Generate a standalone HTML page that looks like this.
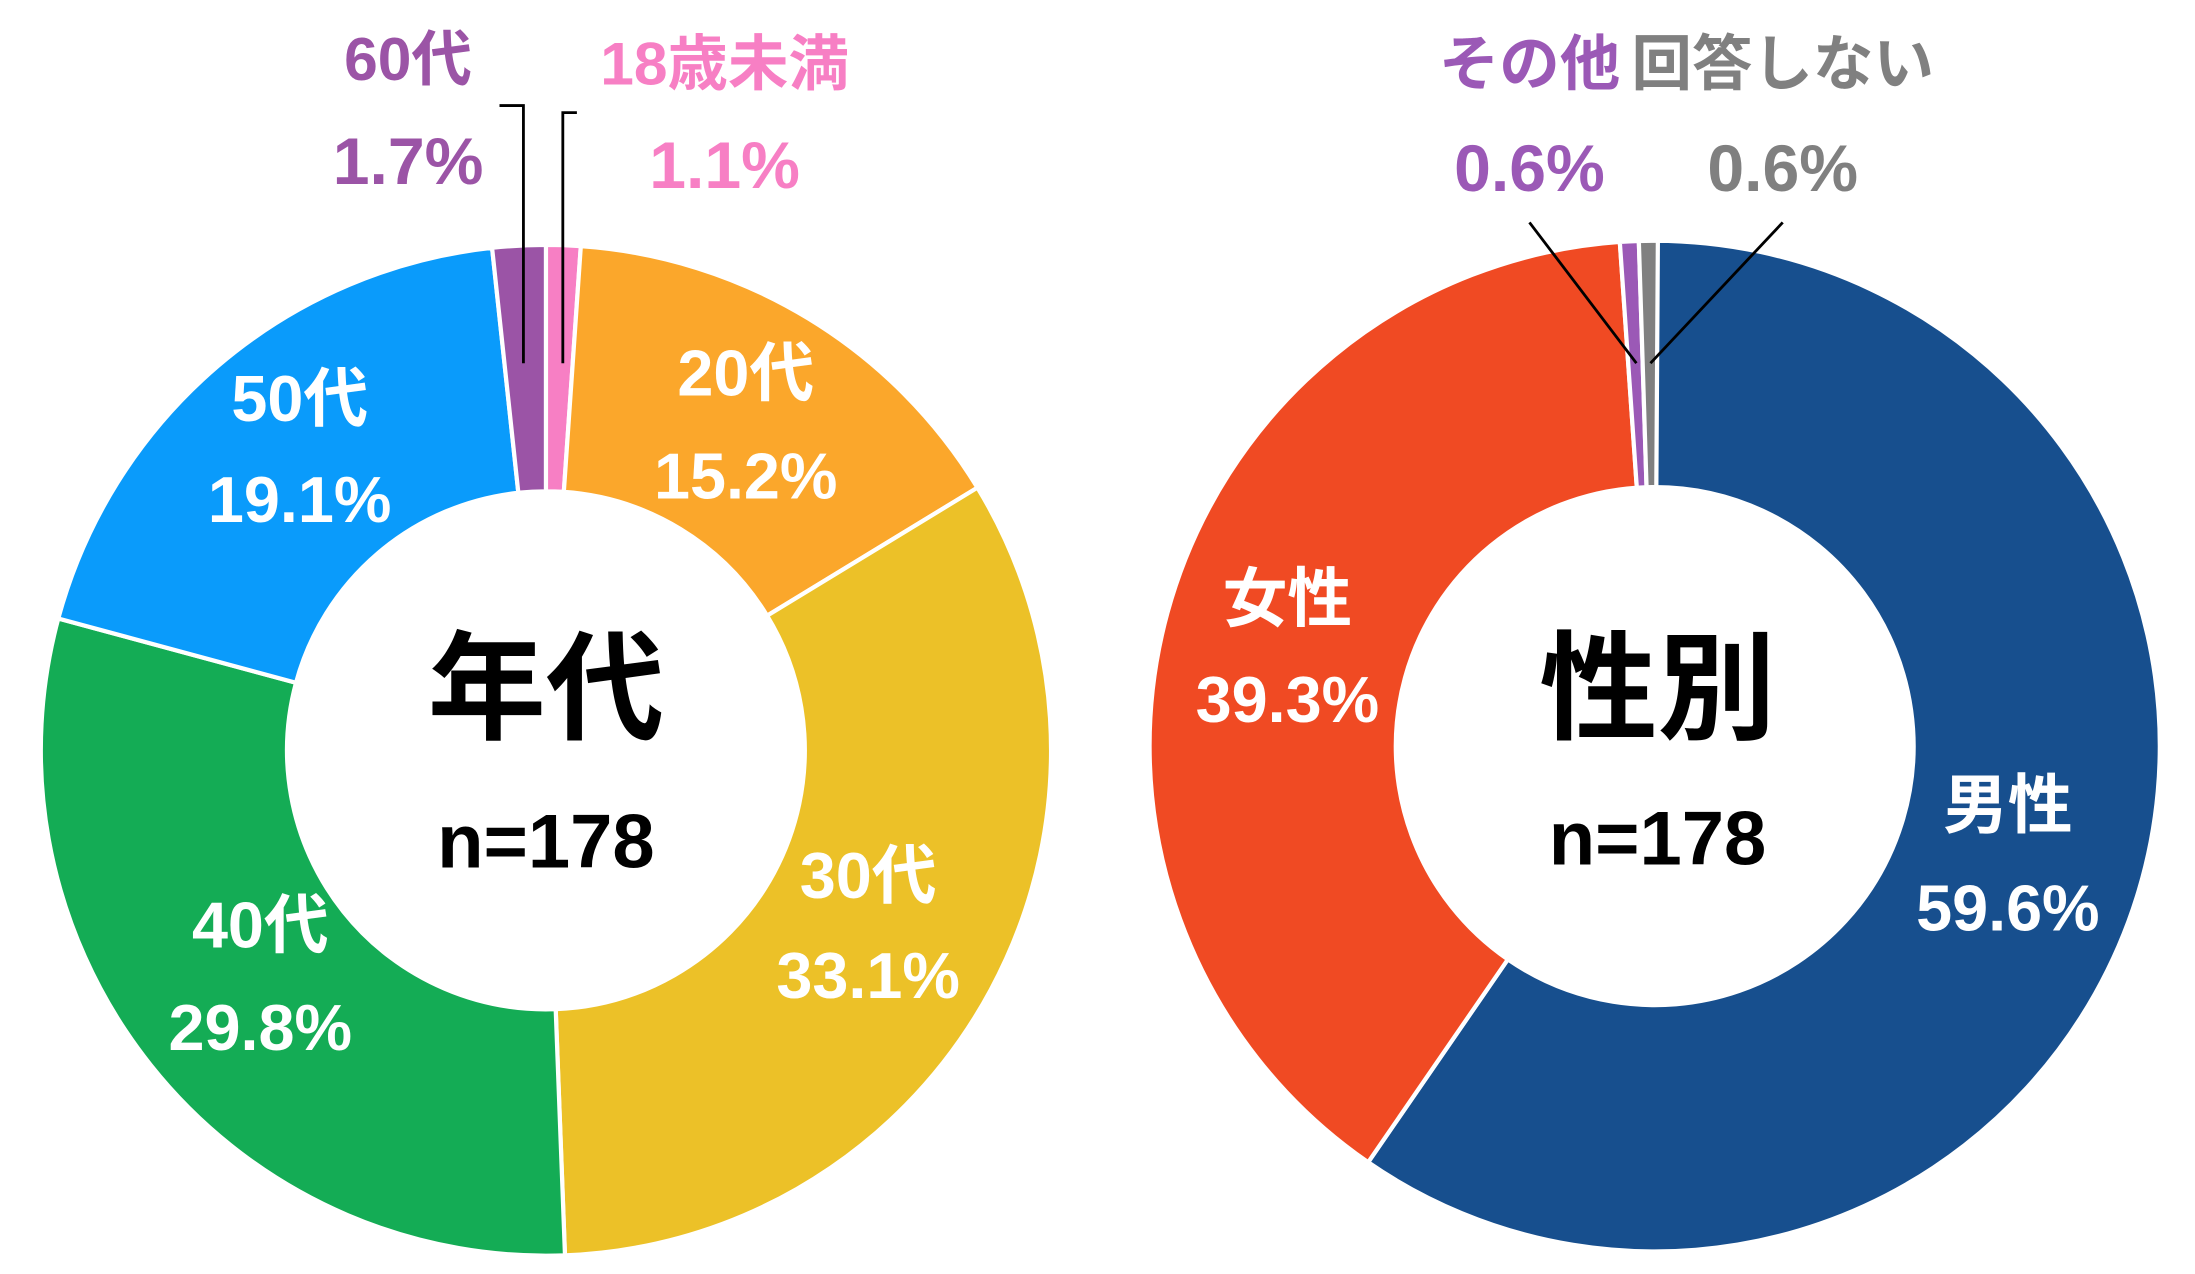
<!DOCTYPE html>
<html><head><meta charset="utf-8"><style>
html,body{margin:0;padding:0;background:#fff;}
svg{display:block;}
text{font-family:"Liberation Sans","Noto Sans CJK JP",sans-serif;font-weight:bold;text-anchor:middle;dominant-baseline:central;}
.w{fill:#fff;font-size:46px;}
.p{font-size:47px;}
.j{font-size:43px;}
</style></head><body>
<svg id="s" width="2195" height="1274" viewBox="0 0 1560 905" preserveAspectRatio="none" xmlns="http://www.w3.org/2000/svg">
<g id="slices"></g>
<g stroke="#000" stroke-width="2" fill="none">
<polyline points="372,258 372,75 355,75"/>
<polyline points="400,258 400,80 410,80"/>
<line x1="1163" y1="258" x2="1087" y2="158"/>
<line x1="1173" y1="258" x2="1267" y2="158"/>
</g>
<text class="w" x="530" y="265">20代</text><text class="w" x="530" y="338">15.2%</text>
<text class="w" x="617" y="622">30代</text><text class="w" x="617" y="693">33.1%</text>
<text class="w" x="185" y="657">40代</text><text class="w" x="185" y="730">29.8%</text>
<text class="w" x="213" y="283">50代</text><text class="w" x="213" y="355">19.1%</text>
<text class="j" x="290" y="42" style="fill:#9B54A6">60代</text><text class="p" x="290" y="115" style="fill:#9B54A6">1.7%</text>
<text class="j" x="515" y="45" style="fill:#F77FC4">18歳未満</text><text class="p" x="515" y="118" style="fill:#F77FC4">1.1%</text>
<text x="388" y="490" style="font-size:84px;fill:#000">年代</text>
<text x="388" y="598" style="font-size:54px;fill:#000">n=178</text>
<text class="w" x="1427" y="572">男性</text><text class="w" x="1427" y="645">59.6%</text>
<text class="w" x="915" y="425">女性</text><text class="w" x="915" y="497">39.3%</text>
<text class="j" x="1087" y="45" style="fill:#9B59B6">その他</text><text class="p" x="1087" y="120" style="fill:#9B59B6">0.6%</text>
<text class="j" x="1267" y="45" style="fill:#808080">回答しない</text><text class="p" x="1267" y="120" style="fill:#808080">0.6%</text>
<text x="1178" y="490" style="font-size:84px;fill:#000">性別</text>
<text x="1178" y="596" style="font-size:54px;fill:#000">n=178</text>
</svg>
<script>
function donut(cx,cy,R,r,data){
  var g=document.getElementById('slices'),a=0,out='';
  data.forEach(function(d){
    var a0=a*2*Math.PI/100,a1=(a+d[0])*2*Math.PI/100;a+=d[0];
    var L=(a1-a0)>Math.PI?1:0;
    function p(rad,an){return [cx+rad*Math.sin(an),cy-rad*Math.cos(an)];}
    var p1=p(R,a0),p2=p(R,a1),p3=p(r,a1),p4=p(r,a0);
    out+='<path d="M'+p1+'A'+R+','+R+' 0 '+L+' 1 '+p2+'L'+p3+'A'+r+','+r+' 0 '+L+' 0 '+p4+'Z" fill="'+d[1]+'" stroke="#fff" stroke-width="3"/>';
  });
  g.insertAdjacentHTML('beforeend',out);
}
donut(388,533,359,184,[[1.1,'#F77FC4'],[15.2,'#FBA72B'],[33.1,'#ECC128'],[29.8,'#14AC55'],[19.1,'#0A9BFB'],[1.7,'#9B54A6']]);
donut(1176,530,359,184,[[59.6,'#174F8E'],[39.3,'#F04A23'],[0.6,'#9B59B6'],[0.6,'#808080']]);
</script>
</body></html>
